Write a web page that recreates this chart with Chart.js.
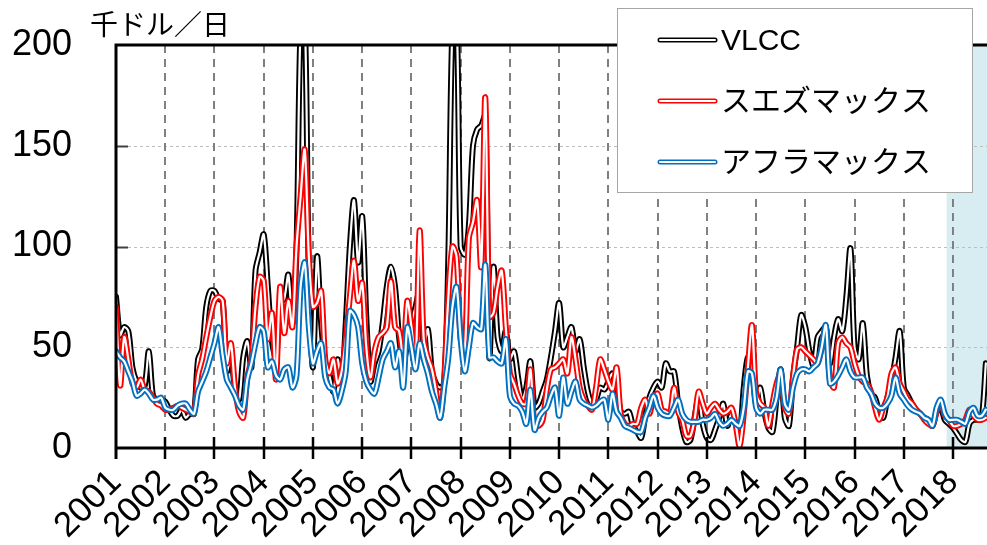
<!DOCTYPE html>
<html>
<head>
<meta charset="utf-8">
<script src="https://cdn.jsdelivr.net/npm/chart.js@4.4.0/dist/chart.umd.min.js"></script>
<style>
  body { margin: 0; background: #fff; }
</style>
</head>
<body>
<canvas id="myChart" width="987" height="545"></canvas>
<script>
// monthly values, Jan 2001 .. Sep 2018 (one row per year)
var startYear = 2001;
var seriesNames = ['VLCC', 'スエズマックス', 'アフラマックス'];
var unitLabel = '千ドル／日';

var vlcc = [
  75, 56, 60, 58, 40, 33, 30, 31, 48, 26, 24, 24,
  23, 19, 16, 16, 19, 15, 17, 17, 44, 49, 70, 78,
  78, 74, 73, 38, 45, 30, 24, 45, 53, 40, 88, 97,
  106, 80, 53, 45, 72, 74, 86, 62, 100, 210, 215, 85,
  40, 95, 62, 42, 36, 28, 44, 33, 62, 100, 123, 92,
  115, 65, 33, 42, 48, 62, 80, 90, 80, 55, 42, 52,
  62, 70, 78, 50, 59, 38, 32, 30, 32, 95, 210, 215,
  100, 96, 110, 150, 158, 160, 165, 45, 90, 55, 48, 58,
  44, 48, 35, 24, 30, 43, 20, 22, 28, 34, 45, 58,
  72, 50, 55, 60, 48, 54, 40, 28, 22, 24, 30, 29,
  33, 37, 30, 18, 17, 18, 11, 8, 5, 16, 25, 30,
  33, 30, 42, 38, 38, 22, 10, 3, 4, 15, 25, 12,
  5, 4, 9, 15, 22, 11, 17, 12, 7, 30, 45, 40,
  22, 30, 18, 10, 8, 25, 39, 15, 11, 35, 50, 66,
  60, 48, 41, 55, 58, 60, 42, 55, 64, 58, 75, 99,
  50, 44, 62, 36, 27, 25, 18, 15, 25, 33, 45, 58,
  30, 26, 22, 19, 17, 15, 14, 11, 18, 20, 14, 12,
  10, 7, 4, 3, 12, 14, 14, 15, 42
];

var suezmax = [
  70, 31, 55, 44, 32, 30, 34, 29, 28, 25, 22, 21,
  19, 19, 20, 21, 20, 19, 18, 17, 36, 44, 55, 65,
  73, 75, 73, 42, 52, 30, 18, 15, 35, 44, 70, 85,
  83, 54, 67, 34, 80, 57, 73, 60, 100, 125, 148, 95,
  70, 72, 78, 44, 37, 44, 32, 38, 54, 75, 93, 73,
  82, 50, 35, 48, 55, 57, 60, 83, 60, 58, 45, 73,
  60, 42, 108, 54, 45, 39, 28, 15, 35, 75, 100, 95,
  54, 48, 104, 112, 123, 90, 174, 65, 67, 80, 88, 60,
  37, 32, 26, 22, 22, 39, 11, 11, 14, 29, 39, 40,
  42, 44, 37, 55, 44, 30, 24, 21, 19, 30, 44, 39,
  33, 29, 40, 17, 12, 11, 12, 12, 20, 24, 17, 25,
  27, 19, 18, 17, 30, 18, 14, 6, 6, 14, 28, 22,
  17, 20, 22, 19, 17, 18, 20, 12, 1, 17, 40, 61,
  27, 22, 20, 11, 22, 32, 37, 20, 17, 35, 49, 50,
  48, 46, 44, 42, 50, 60, 34, 30, 52, 55, 52, 50,
  42, 36, 33, 32, 28, 20, 14, 20, 25, 37, 40, 32,
  28, 24, 22, 19, 17, 14, 12, 11, 18, 23, 16, 14,
  11, 11, 12, 14, 19, 16, 14, 14, 15
];

var aframax = [
  48, 45, 43, 38, 33, 26, 27, 29, 27, 24, 24, 25,
  20, 19, 19, 21, 22, 22, 19, 17, 28, 33, 38, 45,
  52, 60, 46, 34, 30, 26, 21, 19, 34, 42, 52, 60,
  58, 40, 43, 36, 34, 39, 40, 30, 36, 80, 92, 60,
  42, 48, 52, 35, 30, 29, 22, 28, 38, 68, 66, 60,
  42, 33, 29, 27, 35, 44, 48, 52, 40, 48, 30, 60,
  50, 39, 52, 44, 37, 28, 22, 15, 30, 45, 70, 80,
  54, 38, 50, 62, 60, 59, 91, 45, 45, 43, 42, 54,
  26, 22, 21, 18, 12, 29, 9, 15, 18, 20, 26, 30,
  16, 35, 22, 28, 33, 24, 22, 21, 20, 21, 23, 24,
  14, 27, 18, 15, 11, 10, 9, 8, 8, 15, 20, 26,
  20, 17, 16, 16, 20, 24, 17, 14, 13, 13, 13, 14,
  14, 15, 17, 13, 11, 12, 14, 12, 11, 20, 38, 37,
  20, 17, 19, 19, 19, 25, 39, 22, 19, 30, 37, 39,
  39, 38, 40, 42, 50, 61, 32, 33, 36, 40, 44, 38,
  35, 35, 35, 30, 27, 22, 20, 20, 22, 26, 35, 27,
  24, 21, 19, 18, 17, 15, 14, 11, 20, 24, 17, 14,
  14, 14, 13, 12, 18, 20, 16, 16, 19
];

var yearTicks = [2001, 2002, 2003, 2004, 2005, 2006, 2007, 2008, 2009, 2010,
                 2011, 2012, 2013, 2014, 2015, 2016, 2017, 2018];
var yGrid = [50, 100, 150];
var forecastFrom = 2017.87;   // shaded part on the right
var xEnd = 2018.69;

var colors = ['#000000', '#ff0000', '#0070c0'];
var latin = "'Liberation Sans', Arial, 'Noto Sans CJK JP', sans-serif";

function toPoints(arr) {
  return arr.map(function (v, i) { return { x: startYear + i / 12, y: v }; });
}

var allSeries = [vlcc, suezmax, aframax];
var datasets = [];
for (var s = 0; s < allSeries.length; s++) {
  var pts = toPoints(allSeries[s]);
  // hollow look: thick coloured line, thin white line on top
  datasets.push({
    label: seriesNames[s], data: pts, borderColor: colors[s], borderWidth: 6,
    pointRadius: 0, tension: 0.3, borderJoinStyle: 'round', borderCapStyle: 'round',
    order: 6 - 2 * s
  });
  datasets.push({
    label: seriesNames[s] + '_inner', data: pts, borderColor: '#ffffff', borderWidth: 2.2,
    pointRadius: 0, tension: 0.3, borderJoinStyle: 'round', borderCapStyle: 'round',
    order: 5 - 2 * s
  });
}

// keep the plot box where the picture has it
function noPad(s) {
  s.paddingTop = 0; s.paddingBottom = 0; s.paddingLeft = 0; s.paddingRight = 0;
}

var framePlugin = {
  id: 'frame',
  beforeDatasetsDraw: function (chart) {
    var ctx = chart.ctx, a = chart.chartArea, xs = chart.scales.x, ys = chart.scales.y;
    ctx.save();
    // shaded area
    var sx = xs.getPixelForValue(forecastFrom);
    ctx.fillStyle = '#d8edf1';
    ctx.fillRect(sx, a.top, a.right - sx, a.bottom - a.top);
    // horizontal dotted grid
    ctx.strokeStyle = '#bdbdbd';
    ctx.lineWidth = 1;
    ctx.setLineDash([3, 3]);
    yGrid.forEach(function (v) {
      var py = Math.round(ys.getPixelForValue(v)) + 0.5;
      ctx.beginPath(); ctx.moveTo(a.left, py); ctx.lineTo(a.right, py); ctx.stroke();
    });
    // vertical dashed year lines
    ctx.strokeStyle = '#808080';
    ctx.lineWidth = 2;
    ctx.setLineDash([8, 6]);
    yearTicks.slice(1).forEach(function (yr) {
      var px = Math.round(xs.getPixelForValue(yr));
      ctx.beginPath(); ctx.moveTo(px, a.top); ctx.lineTo(px, a.bottom); ctx.stroke();
    });
    ctx.setLineDash([]);
    // small inner ticks on y axis
    ctx.strokeStyle = '#404040';
    yGrid.forEach(function (v) {
      var py = Math.round(ys.getPixelForValue(v)) + 0.5;
      ctx.beginPath(); ctx.moveTo(a.left, py); ctx.lineTo(a.left + 12, py); ctx.stroke();
    });
    ctx.restore();
  },
  afterDatasetsDraw: function (chart) {
    var ctx = chart.ctx, a = chart.chartArea, xs = chart.scales.x;
    ctx.save();
    ctx.strokeStyle = '#000';
    ctx.lineWidth = 3;
    ctx.beginPath();
    ctx.moveTo(a.right, a.top); ctx.lineTo(a.left, a.top); ctx.lineTo(a.left, a.bottom + 11);
    ctx.moveTo(a.left, a.bottom); ctx.lineTo(a.right, a.bottom);
    ctx.stroke();
    ctx.lineWidth = 2.5;
    yearTicks.slice(1).forEach(function (yr) {
      var px = Math.round(xs.getPixelForValue(yr));
      ctx.beginPath(); ctx.moveTo(px, a.bottom - 11); ctx.lineTo(px, a.bottom + 11); ctx.stroke();
    });
    ctx.restore();
  },
  afterDraw: function (chart) {
    var ctx = chart.ctx;
    ctx.save();
    // unit label
    ctx.fillStyle = '#000';
    ctx.font = "28px 'Noto Sans CJK JP', sans-serif";
    ctx.textBaseline = 'middle';
    ctx.textAlign = 'left';
    ctx.fillText(unitLabel, 90, 24);
    // legend box
    ctx.fillStyle = '#fff';
    ctx.fillRect(617, 8, 355, 184);
    ctx.strokeStyle = '#a6a6a6';
    ctx.lineWidth = 1;
    ctx.strokeRect(617.5, 8.5, 355, 184);
    var rows = [40, 101, 162];
    for (var i = 0; i < seriesNames.length; i++) {
      var ry = rows[i];
      ctx.lineCap = 'round';
      ctx.strokeStyle = colors[i];
      ctx.lineWidth = 5;
      ctx.beginPath(); ctx.moveTo(660, ry); ctx.lineTo(715, ry); ctx.stroke();
      ctx.strokeStyle = '#fff';
      ctx.lineWidth = 2;
      ctx.beginPath(); ctx.moveTo(660, ry); ctx.lineTo(715, ry); ctx.stroke();
      ctx.fillStyle = '#000';
      ctx.font = '30px ' + latin;
      ctx.textBaseline = 'middle';
      ctx.fillText(seriesNames[i], 721, ry + 2);
    }
    ctx.restore();
  }
};

var ctx = document.getElementById('myChart').getContext('2d');
var chart = new Chart(ctx, {
  type: 'line',
  data: { datasets: datasets },
  options: {
    responsive: false,
    animation: false,
    layout: { padding: { top: 45, right: 0, left: 0, bottom: 0 } },
    plugins: { legend: { display: false }, tooltip: { enabled: false } },
    scales: {
      x: {
        type: 'linear', min: startYear, max: xEnd,
        grid: { display: false }, border: { display: false },
        ticks: {
          stepSize: 1, includeBounds: false, autoSkip: false,
          maxRotation: 45, minRotation: 45, padding: 6,
          color: '#000', font: { size: 35, family: latin },
          callback: function (v) { return String(v); }
        },
        afterFit: function (s) { s.height = 97; noPad(s); }
      },
      y: {
        min: 0, max: 200,
        grid: { display: false }, border: { display: false },
        ticks: { stepSize: 50, padding: 36, color: '#000', font: { size: 36, family: latin } },
        afterFit: function (s) { s.width = 116; noPad(s); }
      }
    }
  },
  plugins: [framePlugin]
});
</script>
</body>
</html>
